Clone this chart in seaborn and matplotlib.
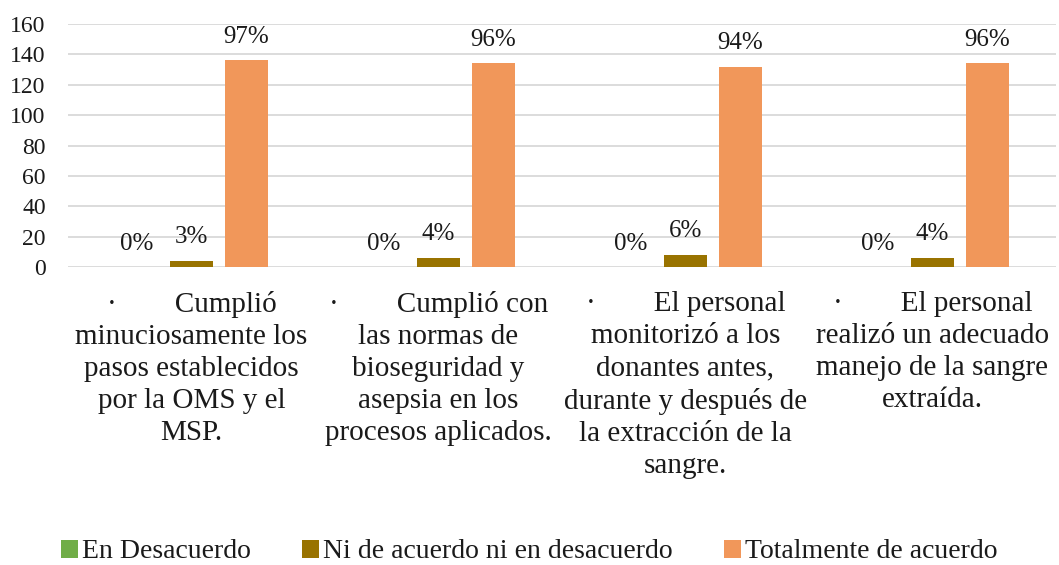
import matplotlib
matplotlib.use("Agg")
import matplotlib.pyplot as plt
import seaborn as sns
import pandas as pd
from matplotlib.patches import Patch

categories = [
    "·        Cumplió\nminuciosamente los\npasos establecidos\npor la OMS y el\nMSP.",
    "·        Cumplió con\nlas normas de\nbioseguridad y\nasepsia en los\nprocesos aplicados.",
    "·        El personal\nmonitorizó a los\ndonantes antes,\ndurante y después de\nla extracción de la\nsangre.",
    "·        El personal\nrealizó un adecuado\nmanejo de la sangre\nextraída.",
]
series = ["En Desacuerdo", "Ni de acuerdo ni en desacuerdo", "Totalmente de acuerdo"]
en_desacuerdo = [0, 0, 0, 0]
ni_acuerdo = [4, 6, 8, 6]
totalmente = [136, 134, 132, 134]
pct_en = ["0%", "0%", "0%", "0%"]
pct_ni = ["3%", "4%", "6%", "4%"]
pct_tot = ["97%", "96%", "94%", "96%"]
colors = ["#70AD47", "#997300", "#F1975A"]

sns.set_theme(style="white")
plt.rcParams["font.family"] = ["Liberation Serif", "DejaVu Serif"]

rows = []
for s, vals in zip(series, [en_desacuerdo, ni_acuerdo, totalmente]):
    for c, v in zip(categories, vals):
        rows.append({"cat": c, "serie": s, "valor": v})
df = pd.DataFrame(rows)

fig = plt.figure(figsize=(10.59, 5.65), dpi=100)
ax = fig.add_axes([68 / 1059, 1 - 267 / 565, 988 / 1059, 243 / 565])
sns.barplot(data=df, x="cat", y="valor", hue="serie", hue_order=series,
            order=categories, palette=colors, width=0.668, gap=0.22,
            saturation=1, legend=False, ax=ax, edgecolor="none")

for cont, labs in zip(ax.containers, [pct_en, pct_ni, pct_tot]):
    ax.bar_label(cont, labels=labs, padding=9, fontsize=18, color="#1a1a1a")

ax.set_ylim(0, 160)
ax.set_yticks(range(0, 161, 20))
ax.set_xlim(-0.5, 3.5)
ax.yaxis.grid(True, color="#D9D9D9", linewidth=1.3)
ax.set_axisbelow(True)
for sp in ax.spines.values():
    sp.set_visible(False)
ax.set_xlabel("")
ax.set_ylabel("")
ax.tick_params(axis="y", length=0, labelsize=17, pad=16, labelcolor="#1a1a1a")
ax.tick_params(axis="x", length=0, labelsize=21, pad=17, labelcolor="#1a1a1a")
for t in ax.get_xticklabels():
    t.set_linespacing(1.31)
    t.set_verticalalignment("top")

handles = [Patch(facecolor=c, edgecolor="none") for c in colors]
fig.legend(handles, series, loc="center", bbox_to_anchor=(0.5, 1 - 552 / 565),
           ncol=3, frameon=False, fontsize=20, handlelength=0.6, handleheight=0.6,
           handletextpad=0.15, columnspacing=1.85, labelcolor="#1a1a1a")

fig.savefig("out.png", dpi=100)
